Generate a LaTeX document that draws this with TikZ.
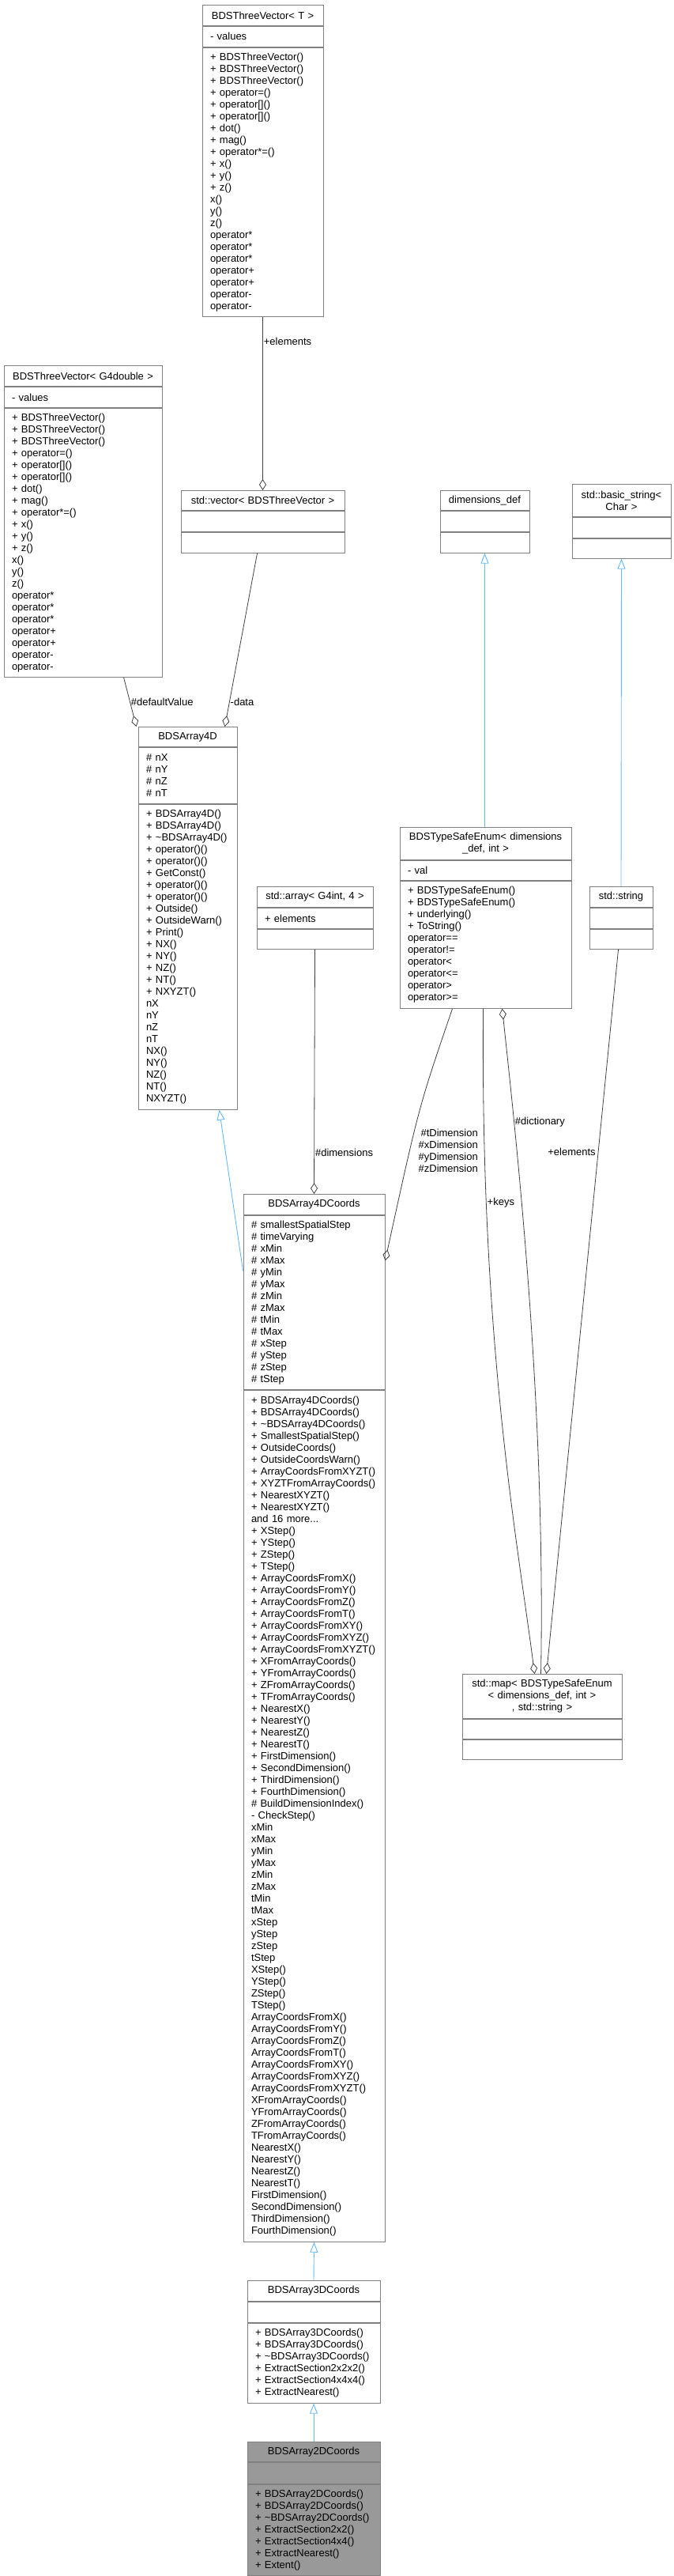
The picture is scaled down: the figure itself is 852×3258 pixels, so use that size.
\documentclass[tikz,border=0pt]{standalone}
\usepackage{fontspec}
\setmainfont{Liberation Sans}
\usepackage{xcolor}
\usetikzlibrary{arrows.meta,positioning}

\definecolor{boxgray}{HTML}{808080}
\definecolor{edgegray}{HTML}{404040}
\definecolor{inhblue}{HTML}{63B8FF}
\definecolor{curfill}{HTML}{999999}

\tikzset{
  umlbox/.style={draw=boxgray, fill=white, line width=0.9pt, inner xsep=10pt, inner ysep=0pt,
    font=\fontsize{13}{15}\selectfont},
  umltitle/.style={umlbox, anchor=north, align=center},
  umlpart/.style={umlbox, align=left},
  agg/.style={draw=edgegray, line width=0.8pt, -{Diamond[open,length=14pt,width=9pt]}},
  inh/.style={draw=inhblue, line width=0.9pt, {Triangle[open,length=13pt,width=10pt]}-},
  lbl/.style={font=\fontsize{13}{15}\selectfont, inner sep=1pt}
}

\begin{document}
\begin{tikzpicture}[x=1pt,y=-1pt]
  \useasboundingbox (0,0) rectangle (852,3258);

  % BDSThreeVector< T >
  \node[umltitle, text width=133pt, minimum height=26pt] (tvT-t) at (332.5,6) {BDSThreeVector< T >};
  \node[umlpart, text width=133pt, minimum height=26pt, below=0pt of tvT-t] (tvT-a) {- values};
  \node[umlpart, text width=133pt, minimum height=340pt, below=0pt of tvT-a] (tvT-m) {+ BDSThreeVector()\\+ BDSThreeVector()\\+ BDSThreeVector()\\+ operator=()\\+ operator[]()\\+ operator[]()\\+ dot()\\+ mag()\\+ operator*=()\\+ x()\\+ y()\\+ z()\\* x()\\* y()\\* z()\\* operator*\\* operator*\\* operator*\\* operator+\\* operator+\\* operator-\\* operator-};

  % BDSThreeVector< G4double >
  \node[umltitle, text width=180pt, minimum height=26pt] (tvG-t) at (105,462) {BDSThreeVector< G4double >};
  \node[umlpart, text width=180pt, minimum height=26pt, below=0pt of tvG-t] (tvG-a) {- values};
  \node[umlpart, text width=180pt, minimum height=340pt, below=0pt of tvG-a] (tvG-m) {+ BDSThreeVector()\\+ BDSThreeVector()\\+ BDSThreeVector()\\+ operator=()\\+ operator[]()\\+ operator[]()\\+ dot()\\+ mag()\\+ operator*=()\\+ x()\\+ y()\\+ z()\\* x()\\* y()\\* z()\\* operator*\\* operator*\\* operator*\\* operator+\\* operator+\\* operator-\\* operator-};

  % std::vector
  \node[umltitle, text width=187pt, minimum height=25pt] (vec-t) at (332.5,620) {std::vector< BDSThreeVector >};
  \node[umlpart, text width=187pt, minimum height=26pt, below=0pt of vec-t] (vec-a) {};
  \node[umlpart, text width=187pt, minimum height=26pt, below=0pt of vec-a] (vec-m) {};

  % dimensions_def
  \node[umltitle, text width=93pt, minimum height=25pt] (dims-t) at (613.5,620) {dimensions\_def};
  \node[umlpart, text width=93pt, minimum height=26pt, below=0pt of dims-t] (dims-a) {};
  \node[umlpart, text width=93pt, minimum height=26pt, below=0pt of dims-a] (dims-m) {};

  % std::basic_string< Char >
  \node[umltitle, text width=105pt, minimum height=41pt] (bstr-t) at (786.5,612) {std::basic\_string<\\Char >};
  \node[umlpart, text width=105pt, minimum height=26pt, below=0pt of bstr-t] (bstr-a) {};
  \node[umlpart, text width=105pt, minimum height=25pt, below=0pt of bstr-a] (bstr-m) {};

  % BDSArray4D
  \node[umltitle, text width=105pt, minimum height=25pt] (a4d-t) at (237.5,919) {BDSArray4D};
  \node[umlpart, text width=105pt, minimum height=71pt, below=0pt of a4d-t] (a4d-a) {\# nX\\\# nY\\\# nZ\\\# nT};
  \node[umlpart, text width=105pt, minimum height=386pt, below=0pt of a4d-a] (a4d-m) {+ BDSArray4D()\\+ BDSArray4D()\\+ \textasciitilde BDSArray4D()\\+ operator()()\\+ operator()()\\+ GetConst()\\+ operator()()\\+ operator()()\\+ Outside()\\+ OutsideWarn()\\+ Print()\\+ NX()\\+ NY()\\+ NZ()\\+ NT()\\+ NXYZT()\\* nX\\* nY\\* nZ\\* nT\\* NX()\\* NY()\\* NZ()\\* NT()\\* NXYZT()};

  % std::array< G4int, 4 >
  \node[umltitle, text width=127pt, minimum height=26pt] (arr-t) at (398.5,1121) {std::array< G4int, 4 >};
  \node[umlpart, text width=127pt, minimum height=26pt, below=0pt of arr-t] (arr-a) {+ elements};
  \node[umlpart, text width=127pt, minimum height=25pt, below=0pt of arr-a] (arr-m) {};

  % BDSTypeSafeEnum
  \node[umltitle, text width=197pt, minimum height=41pt] (enum-t) at (614.5,1046) {BDSTypeSafeEnum< dimensions\\\_def, int >};
  \node[umlpart, text width=197pt, minimum height=25pt, below=0pt of enum-t] (enum-a) {- val};
  \node[umlpart, text width=197pt, minimum height=161pt, below=0pt of enum-a] (enum-m) {+ BDSTypeSafeEnum()\\+ BDSTypeSafeEnum()\\+ underlying()\\+ ToString()\\* operator==\\* operator!=\\* operator<\\* operator<=\\* operator>\\* operator>=};

  % std::string
  \node[umltitle, text width=60pt, minimum height=26pt] (str-t) at (786,1121) {std::string};
  \node[umlpart, text width=60pt, minimum height=26pt, below=0pt of str-t] (str-a) {};
  \node[umlpart, text width=60pt, minimum height=25pt, below=0pt of str-a] (str-m) {};

  % BDSArray4DCoords
  \node[umltitle, text width=159pt, minimum height=26pt] (a4dc-t) at (397.5,1510) {BDSArray4DCoords};
  \node[umlpart, text width=159pt, minimum height=220pt, below=0pt of a4dc-t] (a4dc-a) {\# smallestSpatialStep\\\# timeVarying\\\# xMin\\\# xMax\\\# yMin\\\# yMax\\\# zMin\\\# zMax\\\# tMin\\\# tMax\\\# xStep\\\# yStep\\\# zStep\\\# tStep};
  \node[umlpart, text width=159pt, minimum height=1077pt, below=0pt of a4dc-a] (a4dc-m) {+ BDSArray4DCoords()\\+ BDSArray4DCoords()\\+ \textasciitilde BDSArray4DCoords()\\+ SmallestSpatialStep()\\+ OutsideCoords()\\+ OutsideCoordsWarn()\\+ ArrayCoordsFromXYZT()\\+ XYZTFromArrayCoords()\\+ NearestXYZT()\\+ NearestXYZT()\\and 16 more...\\+ XStep()\\+ YStep()\\+ ZStep()\\+ TStep()\\+ ArrayCoordsFromX()\\+ ArrayCoordsFromY()\\+ ArrayCoordsFromZ()\\+ ArrayCoordsFromT()\\+ ArrayCoordsFromXY()\\+ ArrayCoordsFromXYZ()\\+ ArrayCoordsFromXYZT()\\+ XFromArrayCoords()\\+ YFromArrayCoords()\\+ ZFromArrayCoords()\\+ TFromArrayCoords()\\+ NearestX()\\+ NearestY()\\+ NearestZ()\\+ NearestT()\\+ FirstDimension()\\+ SecondDimension()\\+ ThirdDimension()\\+ FourthDimension()\\\# BuildDimensionIndex()\\- CheckStep()\\* xMin\\* xMax\\* yMin\\* yMax\\* zMin\\* zMax\\* tMin\\* tMax\\* xStep\\* yStep\\* zStep\\* tStep\\* XStep()\\* YStep()\\* ZStep()\\* TStep()\\* ArrayCoordsFromX()\\* ArrayCoordsFromY()\\* ArrayCoordsFromZ()\\* ArrayCoordsFromT()\\* ArrayCoordsFromXY()\\* ArrayCoordsFromXYZ()\\* ArrayCoordsFromXYZT()\\* XFromArrayCoords()\\* YFromArrayCoords()\\* ZFromArrayCoords()\\* TFromArrayCoords()\\* NearestX()\\* NearestY()\\* NearestZ()\\* NearestT()\\* FirstDimension()\\* SecondDimension()\\* ThirdDimension()\\* FourthDimension()};

  % std::map
  \node[umltitle, text width=182pt, minimum height=56pt] (map-t) at (686,2117) {std::map< BDSTypeSafeEnum\\< dimensions\_def, int >\\, std::string >};
  \node[umlpart, text width=182pt, minimum height=25pt, below=0pt of map-t] (map-a) {};
  \node[umlpart, text width=182pt, minimum height=25pt, below=0pt of map-a] (map-m) {};

  % BDSArray3DCoords
  \node[umltitle, text width=148pt, minimum height=26pt] (a3d-t) at (397,2884) {BDSArray3DCoords};
  \node[umlpart, text width=148pt, minimum height=26pt, below=0pt of a3d-t] (a3d-a) {};
  \node[umlpart, text width=148pt, minimum height=101pt, below=0pt of a3d-a] (a3d-m) {+ BDSArray3DCoords()\\+ BDSArray3DCoords()\\+ \textasciitilde BDSArray3DCoords()\\+ ExtractSection2x2x2()\\+ ExtractSection4x4x4()\\+ ExtractNearest()};

  % BDSArray2DCoords
  \node[umltitle, fill=curfill, text width=148pt, minimum height=25pt] (a2d-t) at (397,3088) {BDSArray2DCoords};
  \node[umlpart, fill=curfill, text width=148pt, minimum height=27pt, below=0pt of a2d-t] (a2d-a) {};
  \node[umlpart, fill=curfill, text width=148pt, minimum height=115pt, below=0pt of a2d-a] (a2d-m) {+ BDSArray2DCoords()\\+ BDSArray2DCoords()\\+ \textasciitilde BDSArray2DCoords()\\+ ExtractSection2x2()\\+ ExtractSection4x4()\\+ ExtractNearest()\\+ Extent()};

  % aggregations
  \draw[agg] (tvT-m.south) -- node[lbl, pos=0.14, right] {+elements} (vec-t.north);
  \draw[agg] ([xshift=152pt]tvG-m.south west) -- node[lbl, pos=0.5, right] {\#defaultValue} ([xshift=-2pt]a4d-t.north west);
  \draw[agg] ([xshift=97pt]vec-m.south west) -- node[lbl, pos=0.86, right] {-data} ([xshift=110pt]a4d-t.north west);
  \draw[agg] (arr-m.south) -- node[lbl, pos=0.83, right] {\#dimensions} (a4dc-t.north);
  \draw[agg] ([xshift=67pt]enum-m.south west) .. controls (530,1400) .. ([yshift=53pt]a4dc-a.east);
  \node[lbl, anchor=east, align=right] (dimlbl) at (606,1455) {\#tDimension\\\#xDimension\\\#yDimension\\\#zDimension};
  \draw[agg] ([xshift=106pt]enum-m.south west) .. controls (608,1700) and (655,1950) .. node[lbl, pos=0.21, right] {+keys} ([xshift=92pt]map-t.north west);
  \draw[agg, {Diamond[open,length=14pt,width=9pt]}-] ([xshift=130pt]enum-m.south west) .. controls (660,1500) and (690,1800) .. node[lbl, pos=0.2, right] {\#dictionary} ([xshift=100pt]map-t.north west);
  \draw[agg] ([xshift=37pt]str-m.south west) -- node[lbl, pos=0.28, left, xshift=-2pt] {+elements} ([xshift=107pt]map-t.north west);

  % inheritance
  \draw[inh] (dims-m.south) -- (dims-m.south |- enum-t.north);
  \draw[inh] (bstr-m.south) -- (str-t.north);
  \draw[inh] ([xshift=103pt]a4d-m.south west) -- ([yshift=40pt]a4dc-a.west);
  \draw[inh] (a4dc-m.south) -- (a3d-t.north);
  \draw[inh] (a3d-m.south) -- (a2d-t.north);
\end{tikzpicture}
\end{document}
